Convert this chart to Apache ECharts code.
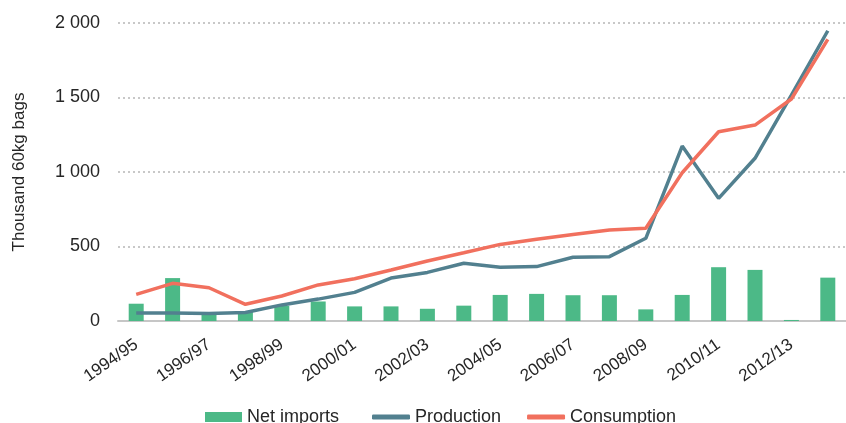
<!DOCTYPE html>
<html>
<meta charset="utf-8">
<head>
	<title>Coffee</title>
	<script src="https://cdn.jsdelivr.net/npm/echarts@6/dist/echarts.min.js"></script>
	<style>
		html, body { margin: 0; padding: 0; background: #fff; }
		#main { width: 846px; height: 423px; }
	</style>
</head>
<body>
<div id="main"></div>
<script type="text/javascript">
// 数据
var years = ['1994/95', '1995/96', '1996/97', '1997/98', '1998/99', '1999/00', '2000/01', '2001/02',
	'2002/03', '2003/04', '2004/05', '2005/06', '2006/07', '2007/08', '2008/09', '2009/10',
	'2010/11', '2011/12', '2012/13', '2013/14'];
var netImports = [116, 288, 55, 62, 102, 131, 98, 98, 82, 103, 175, 182, 173, 173, 78, 175, 361, 343, 7, 291];
var production = [54, 54, 50, 57, 108, 147, 192, 288, 326, 388, 360, 365, 428, 432, 555, 1174, 823, 1092, 1516, 1948];
var consumption = [179, 253, 223, 112, 168, 242, 284, 342, 403, 458, 514, 548, 581, 610, 622, 995, 1270, 1315, 1490, 1890];
var yTicks = [0, 500, 1000, 1500, 2000];

var chart = echarts.init(document.getElementById('main'));
var font = 'Liberation Sans, Arial, sans-serif';
var txt = '#262626';

var option = {
	animation: false,
	textStyle: { fontFamily: font },
	grid: { left: 118, width: 730, top: 23, bottom: 102 },
	// 两个图例：柱子的图标高一点，折线的图标细一点
	legend: [{
		left: 205, top: 408, padding: 0,
		itemWidth: 37, itemHeight: 10,
		textStyle: { fontSize: 18, color: txt, fontFamily: font },
		data: [{ name: 'Net imports', icon: 'rect' }]
	}, {
		left: 372, top: 408, padding: 0,
		itemGap: 26,
		itemWidth: 38, itemHeight: 5,
		icon: 'roundRect',
		textStyle: { fontSize: 18, color: txt, fontFamily: font },
		data: ['Production', 'Consumption']
	}],
	xAxis: {
		type: 'category',
		data: years,
		axisLine: { lineStyle: { color: '#c6c6c6', width: 2 } },
		axisTick: { show: false },
		axisLabel: {
			interval: 1, rotate: 35, fontSize: 17, color: txt, margin: 22
		}
	},
	yAxis: {
		type: 'value',
		min: yTicks[0], max: yTicks[yTicks.length - 1], interval: 500,
		name: 'Thousand 60kg bags',
		nameLocation: 'middle', nameGap: 90,
		nameTextStyle: { fontSize: 17, color: txt },
		axisLine: { show: false },
		axisTick: { show: false },
		splitLine: { lineStyle: { color: '#c8c8c8', type: [2, 3], width: 2 } },
		axisLabel: {
			fontSize: 18, color: txt, margin: 18,
			formatter: function (v) { return String(v).replace(/\B(?=(\d{3})+(?!\d))/g, ' '); }
		}
	},
	series: [
		{
			name: 'Net imports', type: 'bar', data: netImports, barWidth: 15,
			itemStyle: { color: '#4cb987' }
		},
		{
			name: 'Production', type: 'line', data: production, symbol: 'none',
			lineStyle: { color: '#52808f', width: 3.5 }, itemStyle: { color: '#52808f' }
		},
		{
			name: 'Consumption', type: 'line', data: consumption, symbol: 'none',
			lineStyle: { color: '#f1705e', width: 3.5 }, itemStyle: { color: '#f1705e' }
		}
	]
};
chart.setOption(option);
</script>
</body>
</html>
